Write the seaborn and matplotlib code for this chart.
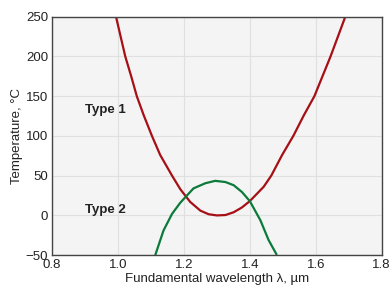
import seaborn as sns
import matplotlib.pyplot as plt
import pandas as pd

# readings
type1_wl = [0.995, 1.022, 1.040, 1.057, 1.078, 1.103, 1.128, 1.164, 1.189, 1.219, 1.250,
            1.275, 1.300, 1.326, 1.351, 1.376, 1.400, 1.442, 1.465, 1.498, 1.532, 1.564,
            1.596, 1.645, 1.688]
type1_temp = [248, 200, 175, 150, 126, 100, 76, 50, 33, 17, 6,
              1.5, 0, 0.5, 4, 10, 18, 36, 50, 76, 100, 126,
              150, 200, 248]
type2_wl = [1.113, 1.138, 1.164, 1.189, 1.229, 1.265, 1.295, 1.326, 1.351, 1.376, 1.400,
            1.432, 1.457, 1.481]
type2_temp = [-50, -19, 2, 16, 34, 40.5, 43.5, 42, 38, 29.5, 18,
              -6, -31, -49]
x_ticks = [0.8, 1.0, 1.2, 1.4, 1.6, 1.8]
y_ticks = [-50, 0, 50, 100, 150, 200, 250]

sns.set_style("whitegrid")
plt.rcParams['font.family'] = ['Liberation Sans', 'DejaVu Sans']

df = pd.concat([
    pd.DataFrame({"wl": type1_wl, "temp": type1_temp, "type": "Type 1"}),
    pd.DataFrame({"wl": type2_wl, "temp": type2_temp, "type": "Type 2"}),
])

fig = plt.figure(figsize=(3.89, 2.88), dpi=100)
ax = fig.add_axes([0.134, 0.114, 0.847, 0.828])
ax.set_facecolor('#f4f4f4')
sns.lineplot(data=df, x="wl", y="temp", hue="type",
             palette={"Type 1": "#a50f15", "Type 2": "#0b7a3a"},
             linewidth=1.6, legend=False, ax=ax)
for ln in ax.lines:
    ln.set_solid_joinstyle('round')

ax.set_xlim(0.8, 1.8)
ax.set_ylim(-50, 250)
ax.set_xticks(x_ticks)
ax.set_xticklabels([f"{v:.1f}" for v in x_ticks])
ax.set_yticks(y_ticks)
ax.grid(True, color='#e0e0e0', linewidth=0.8)
for s in ax.spines.values():
    s.set_visible(True)
    s.set_color('#444444')
    s.set_linewidth(1.0)
ax.tick_params(direction='in', length=4, width=1, color='#222222',
               labelsize=9.5, pad=3, labelcolor='#222222')

ax.text(0.90, 133, "Type 1", fontsize=9.5, fontweight='bold', va='center', color='#222222')
ax.text(0.90, 7, "Type 2", fontsize=9.5, fontweight='bold', va='center', color='#222222')

ax.set_xlabel("Fundamental wavelength λ, µm", fontsize=9.5, labelpad=1, color='#222222')
ax.set_ylabel("Temperature, °C", fontsize=9.5, labelpad=2, color='#222222')

fig.savefig("out.png", dpi=100)
